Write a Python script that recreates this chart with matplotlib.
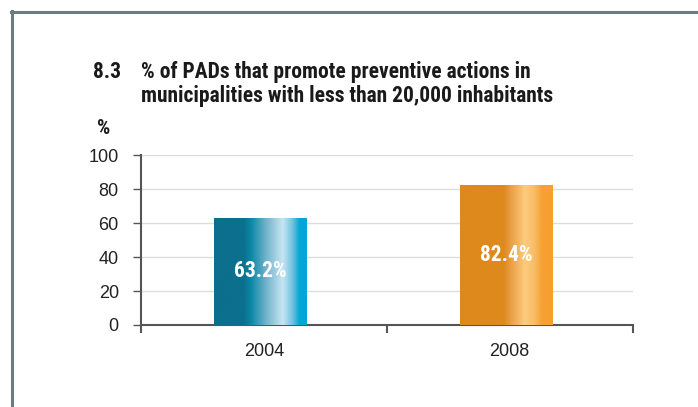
import numpy as np
import matplotlib
matplotlib.use("Agg")
import matplotlib.pyplot as plt
from matplotlib.colors import LinearSegmentedColormap

years = ["2004", "2008"]
values = [63.2, 82.4]
yticks = [0, 20, 40, 60, 80, 100]

# horizontal shading of each bar (position across bar, colour)
blue_stops = [(0.0, "#0b6f8e"), (0.32, "#0b6f8e"), (0.40, "#0b88a6"),
              (0.55, "#6bb0c8"), (0.74, "#c7e6f3"), (0.85, "#6ec0de"),
              (0.92, "#03a7d3"), (1.0, "#03a7d3")]
orange_stops = [(0.0, "#de891c"), (0.47, "#de891c"), (0.55, "#eaa046"),
                (0.70, "#fccb7e"), (0.80, "#f8be68"), (0.88, "#f6a233"),
                (1.0, "#f6a02e")]

narrow = ["Roboto Condensed", "PT Sans Narrow", "Liberation Sans Narrow", "DejaVu Sans"]
plain = ["Liberation Sans", "Arimo", "DejaVu Sans"]

fig = plt.figure(figsize=(6.98, 4.07), dpi=100)
ax = fig.add_axes([0.202, 0.2015, 0.7042, 0.4165])

# grey frame lines at top and left
fig.add_artist(plt.Line2D([12 / 698, 12 / 698], [0, 1 - 11 / 407], color="#6e7c82", lw=2.2))
fig.add_artist(plt.Line2D([11 / 698, 1], [1 - 12 / 407, 1 - 12 / 407], color="#6e7c82", lw=2.2))

x = np.arange(len(years)) - 0.015
width = 0.376
bars = ax.bar(x, values, width=width, color="none", zorder=3)

grad = np.linspace(0, 1, 256).reshape(1, -1)
for bar, stops in zip(bars, [blue_stops, orange_stops]):
    cmap = LinearSegmentedColormap.from_list("g", stops)
    x0, w, h = bar.get_x(), bar.get_width(), bar.get_height()
    im = ax.imshow(grad, cmap=cmap, aspect="auto", extent=[x0, x0 + w, 0, h],
                   zorder=3, interpolation="bilinear")
    im.set_clip_path(bar)
    ax.text(x0 + w / 2, h / 2, f"{h:.1f}%", ha="center", va="center",
            color="white", fontsize=15.5, fontweight="bold", family=narrow, zorder=4)

ax.set_xlim(-0.5, 1.5)
ax.set_ylim(0, 100)
ax.set_yticks(yticks)
ax.set_xticks([-0.5, 0.5, 1.5])
ax.set_xticklabels([])
ax.set_xticks([0, 1], minor=True)
ax.set_xticklabels(years, minor=True)
ax.tick_params(axis="x", which="minor", length=0, pad=13, labelsize=13, labelcolor="#222222")
ax.tick_params(axis="x", which="major", length=6, width=1.5, color="#555555", direction="out")
ax.tick_params(axis="y", length=6, width=1, color="#555555", pad=10, labelsize=13, labelcolor="#222222")
for lab in ax.get_xticklabels(minor=True) + ax.get_yticklabels():
    lab.set_family(plain)

ax.grid(axis="y", color="#dddddd", lw=1, zorder=0)
ax.set_axisbelow(True)
for side in ["top", "right"]:
    ax.spines[side].set_visible(False)
ax.spines["left"].set_color("#555555")
ax.spines["left"].set_linewidth(1.5)
ax.spines["bottom"].set_color("#555555")
ax.spines["bottom"].set_linewidth(1.5)

fig.text(93 / 698, 1 - 72 / 407, "8.3", fontsize=15.5, fontweight="bold",
         family=narrow, color="#1a1a1a", va="center")
fig.text(141 / 698, 1 - 72 / 407, "% of PADs that promote preventive actions in",
         fontsize=15.5, fontweight="bold", family=narrow, color="#1a1a1a", va="center")
fig.text(141 / 698, 1 - 96 / 407, "municipalities with less than 20,000 inhabitants",
         fontsize=15.5, fontweight="bold", family=narrow, color="#1a1a1a", va="center")
fig.text(97 / 698, 1 - 128 / 407, "%", fontsize=15, fontweight="bold",
         family=narrow, color="#1a1a1a", va="center")

fig.savefig("out.png", dpi=100)
